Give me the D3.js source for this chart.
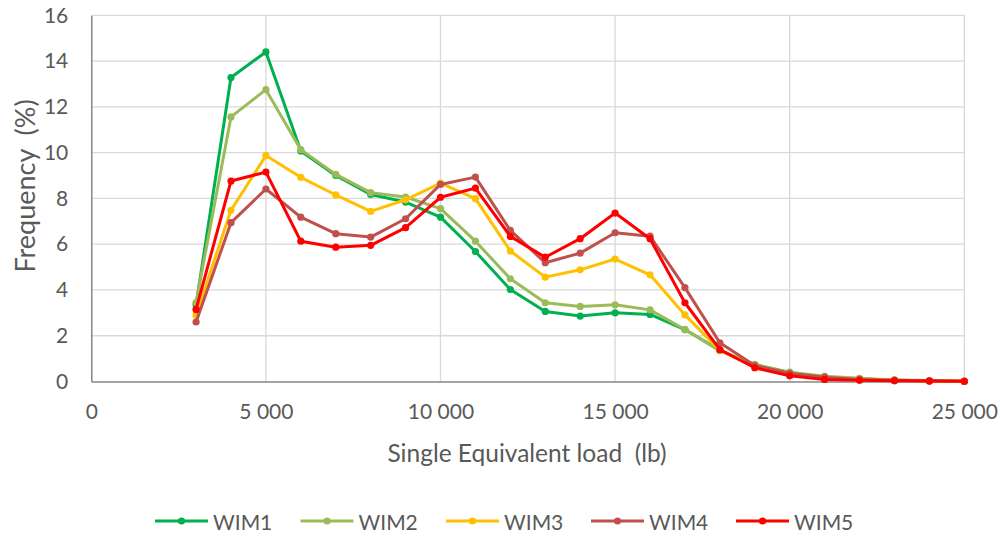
<!DOCTYPE html>
<html>
<head>
<meta charset="utf-8">
<script src="https://cdn.jsdelivr.net/npm/d3@7"></script>
<style>
  html, body { margin: 0; padding: 0; background: #ffffff; }
  svg { display: block; }
  text { font-family: Lato, "Open Sans", sans-serif; fill: #595959; }
</style>
</head>
<body>
<svg id="chart" width="1000" height="536"></svg>
<script>
// ---- data ----
const loads = [3000, 4000, 5000, 6000, 7000, 8000, 9000, 10000, 11000, 12000, 13000, 14000, 15000, 16000, 17000, 18000, 19000, 20000, 21000, 22000, 23000, 24000, 25000];
const seriesNames = ["WIM1", "WIM2", "WIM3", "WIM4", "WIM5"];
const wim1 = [3.35, 13.28, 14.40, 10.07, 9.00, 8.17, 7.84, 7.18, 5.68, 4.02, 3.06, 2.86, 3.00, 2.93, 2.27, 1.36, 0.72, 0.38, 0.20, 0.12, 0.06, 0.03, 0.01];
const wim2 = [3.45, 11.56, 12.75, 10.13, 9.05, 8.25, 8.06, 7.55, 6.13, 4.49, 3.44, 3.28, 3.35, 3.13, 2.27, 1.35, 0.75, 0.41, 0.23, 0.14, 0.07, 0.04, 0.02];
const wim3 = [2.90, 7.48, 9.87, 8.92, 8.15, 7.43, 7.94, 8.67, 7.99, 5.70, 4.56, 4.88, 5.35, 4.66, 2.91, 1.36, 0.65, 0.30, 0.13, 0.07, 0.04, 0.02, 0.01];
const wim4 = [2.60, 6.94, 8.41, 7.18, 6.46, 6.31, 7.11, 8.61, 8.93, 6.60, 5.19, 5.61, 6.50, 6.35, 4.10, 1.69, 0.70, 0.36, 0.19, 0.09, 0.05, 0.03, 0.01];
const wim5 = [3.15, 8.76, 9.15, 6.13, 5.87, 5.95, 6.72, 8.05, 8.45, 6.34, 5.43, 6.24, 7.36, 6.24, 3.44, 1.39, 0.60, 0.25, 0.09, 0.05, 0.03, 0.02, 0.01];
const seriesColors = ["#00B050", "#9BBB59", "#FFC000", "#C0504D", "#FF0000"];
const xTicks = [0, 5000, 10000, 15000, 20000, 25000];
const yTicks = [0, 2, 4, 6, 8, 10, 12, 14, 16];
const xTitle = "Single Equivalent load  (lb)";
const yTitle = "Frequency  (%)";

const allSeries = [wim1, wim2, wim3, wim4, wim5];

// ---- layout ----
const svg = d3.select("#chart");
const plot = { left: 91.3, right: 964.3, top: 15.3, bottom: 381.5 };

const x = d3.scaleLinear().domain([0, 25000]).range([plot.left, plot.right]);
const y = d3.scaleLinear().domain([0, 16]).range([plot.bottom, plot.top]);

const loc = d3.formatLocale({ decimal: ".", thousands: " ", grouping: [3], currency: ["", ""] });
const fmt = loc.format(",");

// gridlines
const grid = svg.append("g");
grid.selectAll("line.h").data(yTicks.filter(d => d > 0)).join("line")
  .attr("x1", plot.left).attr("x2", plot.right)
  .attr("y1", d => y(d)).attr("y2", d => y(d))
  .attr("stroke", "#d9d9d9").attr("stroke-width", 1.3);
grid.selectAll("line.v").data(xTicks.filter(d => d > 0)).join("line")
  .attr("y1", plot.top).attr("y2", plot.bottom)
  .attr("x1", d => x(d)).attr("x2", d => x(d))
  .attr("stroke", "#d9d9d9").attr("stroke-width", 1.3);

// axes
const xAxis = svg.append("g").attr("transform", `translate(0,${plot.bottom})`)
  .call(d3.axisBottom(x).tickValues(xTicks).tickFormat(fmt).tickSize(0).tickPadding(24));
const yAxis = svg.append("g").attr("transform", `translate(${plot.left},0)`)
  .call(d3.axisLeft(y).tickValues(yTicks).tickFormat(d3.format("d")).tickSize(0).tickPadding(23));
[xAxis, yAxis].forEach(a => {
  a.select(".domain").attr("stroke", "#868686").attr("stroke-width", 1.5);
  a.selectAll("text").style("font-size", "21px").attr("fill", "#595959")
    .style("font-family", "Lato, 'Open Sans', sans-serif");
});
xAxis.selectAll("text").attr("dy", "0.32em").attr("y", 31);

// series
const line = d3.line().x((d, i) => x(loads[i])).y(d => y(d));
allSeries.forEach((vals, si) => {
  const g = svg.append("g");
  g.append("path").datum(vals).attr("d", line)
    .attr("fill", "none").attr("stroke", seriesColors[si])
    .attr("stroke-width", 3).attr("stroke-linejoin", "round").attr("stroke-linecap", "round");
  g.selectAll("circle").data(vals).join("circle")
    .attr("cx", (d, i) => x(loads[i])).attr("cy", d => y(d))
    .attr("r", 3.6).attr("fill", seriesColors[si]);
});

// axis titles
svg.append("text").attr("x", 527).attr("y", 452)
  .attr("text-anchor", "middle").attr("dominant-baseline", "central")
  .style("font-size", "24.5px").style("white-space", "pre").text(xTitle);
svg.append("text").attr("transform", "translate(24,186) rotate(-90)")
  .attr("text-anchor", "middle").attr("dominant-baseline", "central")
  .style("font-size", "27px").style("white-space", "pre").text(yTitle);

// legend
const legendX = [155, 300.5, 446, 591, 736];
const legY = 521;
const leg = svg.append("g");
seriesNames.forEach((name, i) => {
  const lx = legendX[i];
  leg.append("line").attr("x1", lx).attr("x2", lx + 53).attr("y1", legY).attr("y2", legY)
    .attr("stroke", seriesColors[i]).attr("stroke-width", 3);
  leg.append("circle").attr("cx", lx + 26.5).attr("cy", legY).attr("r", 3.6).attr("fill", seriesColors[i]);
  leg.append("text").attr("x", lx + 58).attr("y", legY).attr("dominant-baseline", "central")
    .style("font-size", "21px").text(name);
});
</script>
</body>
</html>
